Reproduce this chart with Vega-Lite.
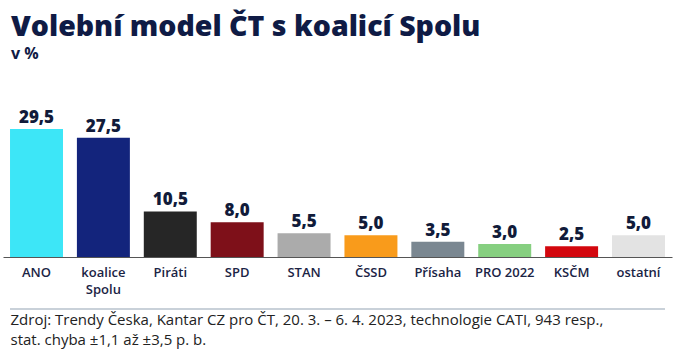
{
  "$schema": "https://vega.github.io/schema/vega-lite/v6.json",
  "autosize": {"type": "none"},
  "padding": {"left": 3, "top": 66, "right": 4, "bottom": 98},
  "width": 669,
  "height": 191,
  "background": "white",
  "config": {
    "font": "Open Sans",
    "view": {"stroke": null},
    "locale": {"number": {"decimal": ",", "thousands": " ", "grouping": [3], "currency": ["", " Kč"]}}
  },
  "title": {
    "text": "Volební model ČT s koalicí Spolu",
    "subtitle": "v %",
    "anchor": "start",
    "frame": "group",
    "dx": 8,
    "offset": 4,
    "font": "Open Sans",
    "fontSize": 28.5,
    "fontWeight": 800,
    "color": "#0f1b45",
    "subtitleFont": "Open Sans",
    "subtitleFontSize": 16,
    "subtitleFontWeight": 700,
    "subtitleColor": "#0f1b45",
    "subtitlePadding": 5
  },
  "data": {
    "values": [
      {"strana": "ANO", "hodnota": 29.5},
      {"strana": "koalice Spolu", "hodnota": 27.5},
      {"strana": "Piráti", "hodnota": 10.5},
      {"strana": "SPD", "hodnota": 8.0},
      {"strana": "STAN", "hodnota": 5.5},
      {"strana": "ČSSD", "hodnota": 5.0},
      {"strana": "Přísaha", "hodnota": 3.5},
      {"strana": "PRO 2022", "hodnota": 3.0},
      {"strana": "KSČM", "hodnota": 2.5},
      {"strana": "ostatní", "hodnota": 5.0}
    ]
  },
  "encoding": {
    "x": {
      "field": "strana",
      "type": "nominal",
      "sort": null,
      "scale": {"paddingInner": 0.208, "paddingOuter": 0.105},
      "axis": {
        "labelAngle": 0,
        "labelFont": "Open Sans",
        "labelFontSize": 13,
        "labelFontWeight": 600,
        "labelColor": "#1b2445",
        "labelPadding": 9,
        "labelLineHeight": 17,
        "labelBaseline": "top",
        "labelExpr": "datum.value == 'koalice Spolu' ? ['koalice', 'Spolu'] : datum.value",
        "ticks": false,
        "domain": true,
        "domainColor": "#555555",
        "domainWidth": 1,
        "title": ["Zdroj: Trendy Česka, Kantar CZ pro ČT, 20. 3. – 6. 4. 2023, technologie CATI, 943 resp.,", "stat. chyba ±1,1 až ±3,5 p. b."],
        "titleFont": "Open Sans",
        "titleFontSize": 15,
        "titleFontWeight": "normal",
        "titleColor": "#222222",
        "titleAnchor": "start",
        "titleAlign": "left",
        "titleBaseline": "top",
        "titleLineHeight": 20,
        "titleX": 7,
        "titleY": 55
      }
    }
  },
  "layer": [
    {
      "mark": {"type": "bar"},
      "encoding": {
        "y": {"field": "hodnota", "type": "quantitative", "scale": {"domain": [0, 44], "nice": false}, "axis": null},
        "color": {
          "field": "strana",
          "type": "nominal",
          "legend": null,
          "scale": {
            "domain": ["ANO", "koalice Spolu", "Piráti", "SPD", "STAN", "ČSSD", "Přísaha", "PRO 2022", "KSČM", "ostatní"],
            "range": ["#3de6f7", "#13247c", "#262626", "#7e1019", "#ababab", "#f99b1b", "#7a8791", "#86cf80", "#d3070e", "#e3e3e3"]
          }
        }
      }
    },
    {
      "mark": {"type": "text", "baseline": "alphabetic", "dy": -6, "font": "Open Sans", "fontSize": 17, "fontWeight": 800, "color": "#111b3a"},
      "encoding": {
        "y": {"field": "hodnota", "type": "quantitative"},
        "text": {"field": "hodnota", "type": "quantitative", "format": ".1f"}
      }
    },
    {
      "data": {"values": [{}]},
      "mark": {"type": "rule", "clip": false, "color": "#c9d1d9", "strokeWidth": 2},
      "encoding": {
        "x": {"datum": "ANO", "bandPosition": 0},
        "x2": {"datum": "ostatní", "bandPosition": 1},
        "y": {"datum": -12}
      }
    }
  ]
}
